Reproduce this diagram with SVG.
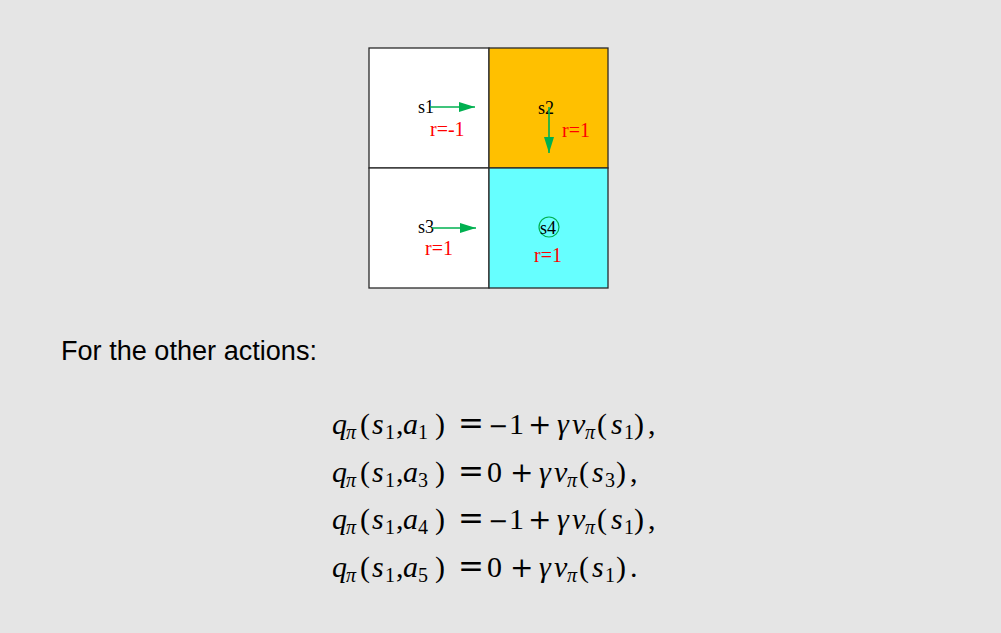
<svg xmlns="http://www.w3.org/2000/svg" width="1001" height="633" viewBox="0 0 1001 633">
<defs>
<style>
.cell{stroke:#2a2a2a;stroke-width:1.3}
.lbl{font-family:"Liberation Serif",serif;font-size:18px;fill:#000}
.rw{font-family:"Liberation Serif",serif;font-size:20px;fill:#ff0000}
.act{stroke:#00b050;stroke-width:1.6;fill:none}
.m{font-family:"Liberation Serif",serif;font-size:30px;fill:#000}
.i{font-style:italic}
.s{font-size:20px}
.op{font-family:"DejaVu Serif",serif;font-size:28px}
.eq{font-family:"DejaVu Serif",serif;font-size:31px}
.mn{font-family:"DejaVu Serif",serif;font-size:24px}
.txt{font-family:"Liberation Sans",sans-serif;font-size:27px;fill:#000}
</style>
<marker id="ah" viewBox="0 0 16 10" refX="16" refY="5" markerWidth="16" markerHeight="10" markerUnits="userSpaceOnUse" orient="auto">
<path d="M0,0 L16,5 L0,10 z" fill="#00b050"/>
</marker>
</defs>
<rect width="1001" height="633" fill="#e5e5e5"/>
<g id="s1"><rect class="cell" x="369" y="48" width="120" height="120" fill="#ffffff"/><text class="lbl" x="418" y="113">s1</text><text class="rw" x="430" y="136">r=-1</text></g>
<g id="s2"><rect class="cell" x="489" y="48" width="119" height="120" fill="#ffc000"/><text class="lbl" x="538" y="114">s2</text><text class="rw" x="562" y="137">r=1</text></g>
<g id="s3"><rect class="cell" x="369" y="168" width="120" height="120" fill="#ffffff"/><text class="lbl" x="418" y="233">s3</text><text class="rw" x="425" y="255">r=1</text></g>
<g id="s4"><rect class="cell" x="489" y="168" width="119" height="120" fill="#66ffff"/><circle cx="549" cy="227" r="10" fill="none" stroke="#00b050" stroke-width="1.2"/><text class="lbl" x="540" y="234">s4</text><text class="rw" x="534" y="262">r=1</text></g>
<g id="connectors">
<line class="act" x1="430" y1="107" x2="475" y2="107" marker-end="url(#ah)"/>
<line class="act" x1="549" y1="107" x2="549" y2="153" marker-end="url(#ah)"/>
<line class="act" x1="432" y1="228" x2="476" y2="228" marker-end="url(#ah)"/>
</g>
<g id="caption"><text class="txt" x="61" y="360" textLength="256" lengthAdjust="spacingAndGlyphs">For the other actions:</text></g>
<g id="equations">
<text class="m"><tspan class="i" x="332" y="434">q</tspan><tspan class="i s" x="346" y="439">π</tspan><tspan x="360" y="434">(</tspan><tspan class="i" x="372">s</tspan><tspan class="s" x="385" y="439">1</tspan><tspan x="396" y="434">,</tspan><tspan class="i" x="403">a</tspan><tspan class="s" x="418" y="439">1</tspan><tspan x="435" y="434">)</tspan><tspan class="eq" x="458">=</tspan><tspan class="mn" x="488">−</tspan><tspan x="509">1</tspan><tspan class="op" x="528">+</tspan><tspan class="i" x="557">γ</tspan><tspan class="i" x="572">v</tspan><tspan class="i s" x="585" y="439">π</tspan><tspan x="597" y="434">(</tspan><tspan class="i" x="611">s</tspan><tspan class="s" x="624" y="439">1</tspan><tspan x="634" y="434">)</tspan><tspan x="648">,</tspan></text>
<text class="m"><tspan class="i" x="332" y="482">q</tspan><tspan class="i s" x="346" y="487">π</tspan><tspan x="360" y="482">(</tspan><tspan class="i" x="372">s</tspan><tspan class="s" x="385" y="487">1</tspan><tspan x="396" y="482">,</tspan><tspan class="i" x="403">a</tspan><tspan class="s" x="418" y="487">3</tspan><tspan x="435" y="482">)</tspan><tspan class="eq" x="458">=</tspan><tspan x="487">0</tspan><tspan class="op" x="510">+</tspan><tspan class="i" x="539">γ</tspan><tspan class="i" x="554">v</tspan><tspan class="i s" x="567" y="487">π</tspan><tspan x="579" y="482">(</tspan><tspan class="i" x="592">s</tspan><tspan class="s" x="605" y="487">3</tspan><tspan x="616" y="482">)</tspan><tspan x="630">,</tspan></text>
<text class="m"><tspan class="i" x="332" y="529">q</tspan><tspan class="i s" x="346" y="534">π</tspan><tspan x="360" y="529">(</tspan><tspan class="i" x="372">s</tspan><tspan class="s" x="385" y="534">1</tspan><tspan x="396" y="529">,</tspan><tspan class="i" x="403">a</tspan><tspan class="s" x="418" y="534">4</tspan><tspan x="435" y="529">)</tspan><tspan class="eq" x="458">=</tspan><tspan class="mn" x="488">−</tspan><tspan x="509">1</tspan><tspan class="op" x="528">+</tspan><tspan class="i" x="557">γ</tspan><tspan class="i" x="572">v</tspan><tspan class="i s" x="585" y="534">π</tspan><tspan x="597" y="529">(</tspan><tspan class="i" x="611">s</tspan><tspan class="s" x="624" y="534">1</tspan><tspan x="634" y="529">)</tspan><tspan x="648">,</tspan></text>
<text class="m"><tspan class="i" x="332" y="577">q</tspan><tspan class="i s" x="346" y="582">π</tspan><tspan x="360" y="577">(</tspan><tspan class="i" x="372">s</tspan><tspan class="s" x="385" y="582">1</tspan><tspan x="396" y="577">,</tspan><tspan class="i" x="403">a</tspan><tspan class="s" x="418" y="582">5</tspan><tspan x="435" y="577">)</tspan><tspan class="eq" x="458">=</tspan><tspan x="487">0</tspan><tspan class="op" x="510">+</tspan><tspan class="i" x="539">γ</tspan><tspan class="i" x="554">v</tspan><tspan class="i s" x="567" y="582">π</tspan><tspan x="579" y="577">(</tspan><tspan class="i" x="592">s</tspan><tspan class="s" x="605" y="582">1</tspan><tspan x="616" y="577">)</tspan><tspan x="630">.</tspan></text>
</g>
</svg>
